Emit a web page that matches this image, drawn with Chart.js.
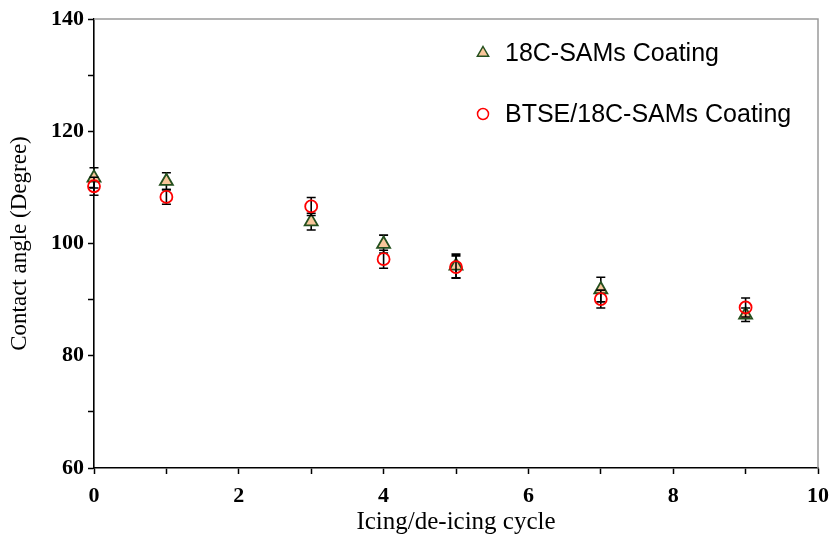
<!DOCTYPE html>
<html>
<head>
<meta charset="utf-8">
<script src="https://cdn.jsdelivr.net/npm/chart.js@4/dist/chart.umd.min.js"></script>
<style>
html,body{margin:0;padding:0;background:#fff;}
#wrap{width:831px;height:539px;}
</style>
</head>
<body>
<div id="wrap"><canvas id="c" width="831" height="539"></canvas></div>
<script>
const cycles = [0, 1, 3, 4, 5, 7, 9];
const samsValues = [111.7, 111.1, 103.9, 99.9, 96.0, 91.8, 87.3];
const samsErrors = [1.8, 1.5, 1.5, 1.6, 2.1, 2.2, 1.2];
const btseValues = [110.2, 108.3, 106.6, 97.2, 95.8, 90.1, 88.6];
const btseErrors = [1.6, 1.3, 1.6, 1.6, 2.0, 1.6, 1.7];
const seriesNames = ['18C-SAMs Coating', 'BTSE/18C-SAMs Coating'];
const xTickValues = [0, 2, 4, 6, 8, 10];
const yTickValues = [60, 80, 100, 120, 140];

const errorSets = [samsErrors, btseErrors];

const errorBarPlugin = {
  id: 'errorBars',
  beforeDatasetDraw(chart, args) {
    const ctx = chart.ctx;
    const ds = chart.data.datasets[args.index];
    const errs = errorSets[args.index];
    const xs = chart.scales.x, ys = chart.scales.y;
    ctx.save();
    ctx.strokeStyle = '#000';
    ctx.lineWidth = 1.6;
    ds.data.forEach((p, i) => {
      const px = xs.getPixelForValue(p.x);
      const top = ys.getPixelForValue(p.y + errs[i]);
      const bot = ys.getPixelForValue(p.y - errs[i]);
      ctx.beginPath();
      ctx.moveTo(px, top); ctx.lineTo(px, bot);
      ctx.moveTo(px - 4.5, top); ctx.lineTo(px + 4.5, top);
      ctx.moveTo(px - 4.5, bot); ctx.lineTo(px + 4.5, bot);
      ctx.stroke();
    });
    ctx.restore();
  }
};

const frameLegendPlugin = {
  id: 'frameLegend',
  beforeDatasetsDraw(chart) {
    const {ctx, chartArea: a} = chart;
    ctx.save();
    ctx.strokeStyle = '#9a9a9a';
    ctx.lineWidth = 1.5;
    ctx.beginPath();
    ctx.moveTo(a.left, a.top);
    ctx.lineTo(a.right, a.top);
    ctx.lineTo(a.right, a.bottom);
    ctx.stroke();
    ctx.restore();
  },
  afterDraw(chart) {
    const {ctx, chartArea: a} = chart;
    ctx.save();
    const mx = a.left + 389;
    const tx = a.left + 411;
    const y1 = a.top + 34, y2 = a.top + 95;
    ctx.beginPath();
    const r = 6.5;
    ctx.moveTo(mx, y1 - r);
    ctx.lineTo(mx + r * 0.866, y1 + r * 0.5);
    ctx.lineTo(mx - r * 0.866, y1 + r * 0.5);
    ctx.closePath();
    ctx.fillStyle = '#F9C79B';
    ctx.fill();
    ctx.strokeStyle = '#24501E';
    ctx.lineWidth = 1.5;
    ctx.stroke();
    ctx.beginPath();
    ctx.arc(mx, y2, 5.5, 0, Math.PI * 2);
    ctx.fillStyle = '#fff';
    ctx.fill();
    ctx.strokeStyle = '#FF0000';
    ctx.lineWidth = 1.5;
    ctx.stroke();
    ctx.fillStyle = '#000';
    ctx.font = '25px "Liberation Sans", Arial, sans-serif';
    ctx.textBaseline = 'middle';
    ctx.fillText(seriesNames[0], tx, y1 + 1);
    ctx.fillText(seriesNames[1], tx, y2 + 1);
    ctx.restore();
  }
};

const toPts = (vals) => cycles.map((c, i) => ({x: c, y: vals[i]}));

new Chart(document.getElementById('c'), {
  type: 'scatter',
  data: {
    datasets: [
      {
        label: seriesNames[0],
        data: toPts(samsValues),
        pointStyle: 'triangle',
        pointRadius: 7.5,
        pointHoverRadius: 7.5,
        backgroundColor: '#F9C79B',
        borderColor: '#24501E',
        pointBorderWidth: 1.8,
        clip: false,
        order: 1
      },
      {
        label: seriesNames[1],
        data: toPts(btseValues),
        pointStyle: 'circle',
        pointRadius: 6,
        pointHoverRadius: 6,
        backgroundColor: 'rgba(255,255,255,0)',
        borderColor: '#FF0000',
        pointBorderWidth: 1.8,
        clip: false,
        order: 0
      }
    ]
  },
  options: {
    responsive: false,
    animation: false,
    events: [],
    layout: {padding: {top: 19, right: 13, left: 0, bottom: 0}},
    plugins: {legend: {display: false}, tooltip: {enabled: false}},
    scales: {
      x: {
        type: 'linear',
        min: 0, max: 10,
        afterFit(s) { s.height = 71; s.paddingLeft = 0; s.paddingRight = 0; },
        afterBuildTicks(s) { s.ticks = [0,1,2,3,4,5,6,7,8,9,10].map(v => ({value: v})); },
        ticks: {
          callback: (v) => xTickValues.includes(v) ? String(v) : '',
          color: '#000',
          font: {family: '"Liberation Serif", "Times New Roman", serif', weight: 'bold', size: 22},
          padding: 9,
          maxRotation: 0,
          autoSkip: false
        },
        grid: {drawOnChartArea: false, drawTicks: true, tickLength: 6, tickColor: '#000', tickWidth: 1.5},
        border: {display: true, color: '#000', width: 1.6},
        title: {
          display: true,
          text: 'Icing/de-icing cycle',
          color: '#000',
          font: {family: '"Liberation Serif", "Times New Roman", serif', size: 25},
          padding: {top: 0, bottom: 2}
        }
      },
      y: {
        type: 'linear',
        min: 60, max: 140,
        afterFit(s) { s.width = 94; s.paddingTop = 0; s.paddingBottom = 0; },
        afterBuildTicks(s) { s.ticks = [60,70,80,90,100,110,120,130,140].map(v => ({value: v})); },
        ticks: {
          callback: (v) => yTickValues.includes(v) ? String(v) : '',
          color: '#000',
          font: {family: '"Liberation Serif", "Times New Roman", serif', weight: 'bold', size: 22},
          padding: 4,
          autoSkip: false
        },
        grid: {drawOnChartArea: false, drawTicks: true, tickLength: 6, tickColor: '#000', tickWidth: 1.5},
        border: {display: true, color: '#000', width: 1.6},
        title: {
          display: true,
          text: 'Contact angle (Degree)',
          color: '#000',
          font: {family: '"Liberation Serif", "Times New Roman", serif', size: 23},
          padding: {top: 6, bottom: 0}
        }
      }
    }
  },
  plugins: [errorBarPlugin, frameLegendPlugin]
});
</script>
</body>
</html>
